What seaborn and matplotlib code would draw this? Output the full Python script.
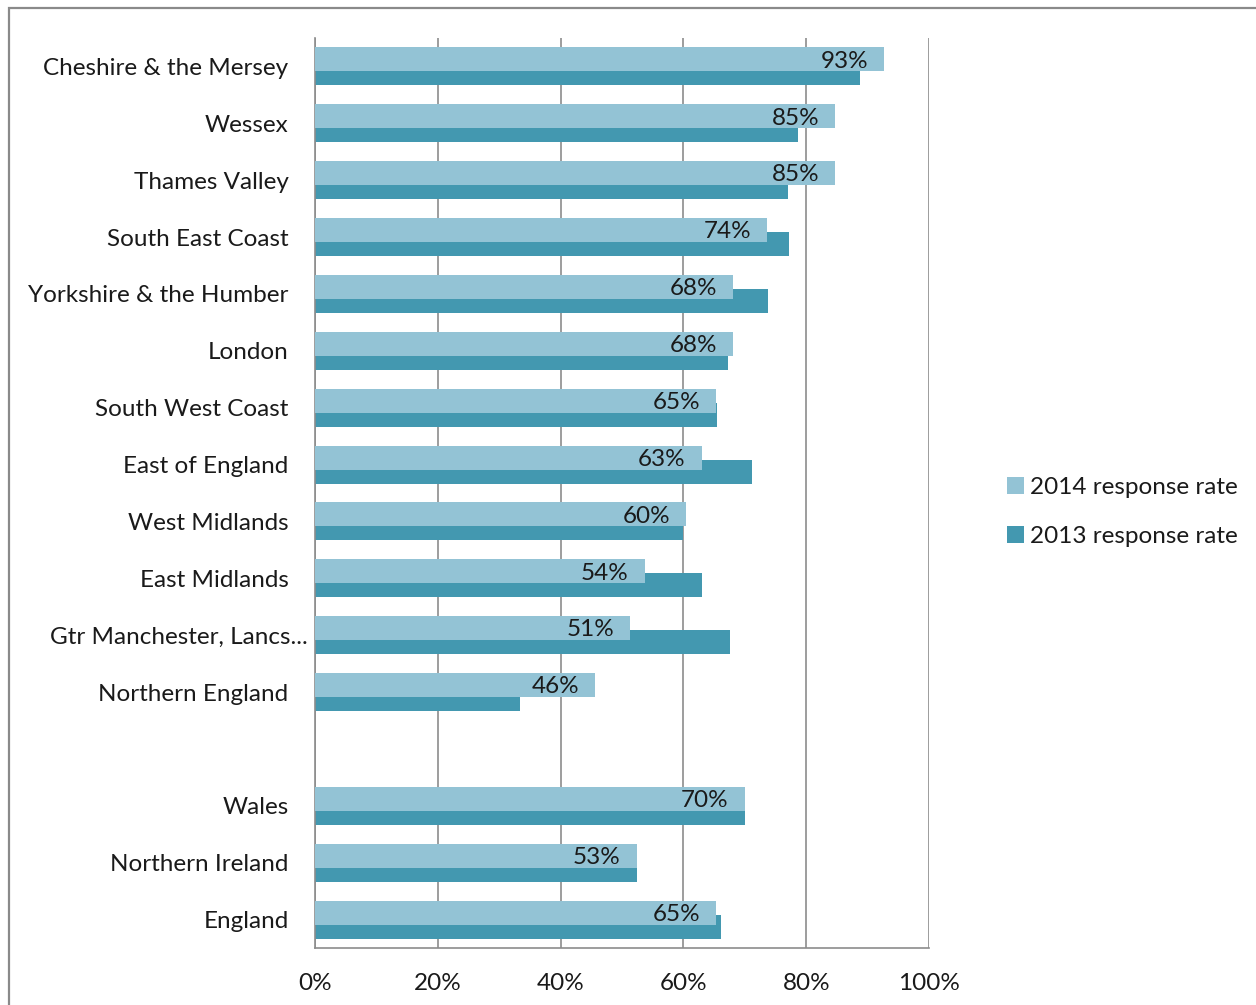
import numpy as np
import pandas as pd
import matplotlib
matplotlib.use("Agg")
import matplotlib.pyplot as plt
import matplotlib.transforms as mtransforms
from matplotlib.patches import Rectangle, Patch
import seaborn as sns

regions = ["Cheshire & the Mersey", "Wessex", "Thames Valley", "South East Coast",
           "Yorkshire & the Humber", "London", "South West Coast", "East of England",
           "West Midlands", "East Midlands", "Gtr Manchester, Lancs...", "Northern England",
           "", "Wales", "Northern Ireland", "England"]
rate_2014 = [92.7, 84.7, 84.7, 73.6, 68.1, 68.1, 65.3, 63.0, 60.4, 53.7, 51.3, 45.6,
             np.nan, 70.0, 52.4, 65.3]
rate_2013 = [88.8, 78.7, 77.0, 77.2, 73.8, 67.3, 65.5, 71.2, 59.9, 63.0, 67.6, 33.4,
             np.nan, 70.0, 52.4, 66.1]
labels_2014 = ["93%", "85%", "85%", "74%", "68%", "68%", "65%", "63%", "60%", "54%",
               "51%", "46%", "", "70%", "53%", "65%"]
x_ticks = [0, 20, 40, 60, 80, 100]
x_ticklabels = ["0%", "20%", "40%", "60%", "80%", "100%"]
series_names = ["2014 response rate", "2013 response rate"]

c14 = "#93C3D5"
c13 = "#4398B0"
txt = "#1a1a1a"
fs = 17.5

sns.set_theme(style="white")
plt.rcParams["font.family"] = ["Lato", "DejaVu Sans"]

fig = plt.figure(figsize=(12.56, 10.05), dpi=100)
ax = fig.add_axes([315/1256, 1-948/1005, (929-315)/1256, (948-38)/1005])

idx = np.arange(len(regions))
off = 0.123
df13 = pd.DataFrame({"rate": rate_2013, "pos": idx + off}).dropna()
df14 = pd.DataFrame({"rate": rate_2014, "pos": idx - off}).dropna()

sns.barplot(data=df13, x="rate", y="pos", orient="h", native_scale=True,
            width=0.42, color=c13, saturation=1, linewidth=0, ax=ax, zorder=2)
sns.barplot(data=df14, x="rate", y="pos", orient="h", native_scale=True,
            width=0.42, color=c14, saturation=1, linewidth=0, ax=ax, zorder=3)

for i, (v, lab) in enumerate(zip(rate_2014, labels_2014)):
    if lab:
        ax.text(v - 2.6, i - off + 0.03, lab, ha="right", va="center",
                fontsize=fs, color=txt, zorder=4)

ax.set_xlim(0, 100)
ax.set_ylim(len(regions) - 0.5, -0.5)
ax.set_xticks(x_ticks)
ax.set_xticklabels(x_ticklabels, fontsize=fs, color=txt)
ax.set_yticks(idx)
ax.set_yticklabels(regions, fontsize=fs, color=txt)
ax.tick_params(axis="both", length=0)
ax.tick_params(axis="x", pad=18)
ax.tick_params(axis="y", pad=19)
ax.set_xlabel("")
ax.set_ylabel("")

ax.xaxis.grid(True, color="#8c8c8c", linewidth=1.2)
ax.yaxis.grid(False)
ax.set_axisbelow(True)
for side in ["top", "right"]:
    ax.spines[side].set_visible(False)
for side in ["left", "bottom"]:
    ax.spines[side].set_visible(True)
    ax.spines[side].set_color("#8c8c8c")
    ax.spines[side].set_linewidth(1.2)

# Excel-like overflow of the truncated label
for t in ax.get_yticklabels():
    if t.get_text().startswith("Gtr"):
        t.set_transform(t.get_transform() + mtransforms.ScaledTranslation(19/100, 0, fig.dpi_scale_trans))

handles = [Patch(facecolor=c14, edgecolor="none"), Patch(facecolor=c13, edgecolor="none")]
fig.legend(handles, series_names, loc="center left", bbox_to_anchor=(985/1256, 1-512/1005),
           frameon=False, fontsize=fs, handlelength=0.72, handleheight=0.72,
           handletextpad=0.25, labelspacing=1.15, labelcolor=txt)

fig.patches.append(Rectangle((9/1256, -0.05), 1.2, 1 - 8/1005 + 0.05, transform=fig.transFigure,
                             fill=False, edgecolor="#8a8a8a", linewidth=1.6))

fig.savefig("out.png", dpi=100, facecolor="white")
